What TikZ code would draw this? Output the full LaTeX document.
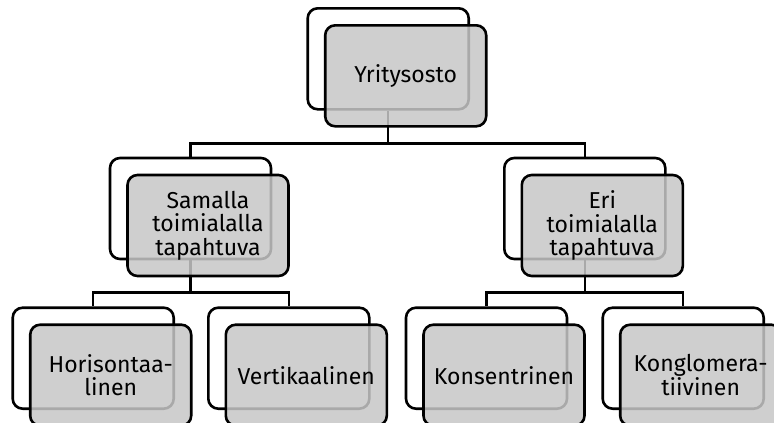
\documentclass[tikz,border=0pt]{standalone}
\usepackage{fontspec}
\setmainfont{Fira Sans}
\begin{document}
\begin{tikzpicture}[x=1pt,y=-1pt,
  back/.style={draw=black, line width=2.6pt, rounded corners=10pt, fill=white,
    minimum width=161pt, minimum height=101pt, inner sep=0pt},
  front/.style={back, fill=black!22, fill opacity=0.85, text opacity=1, align=center,
    font=\fontsize{23}{23.5}\selectfont},
  conn/.style={draw=black, line width=2.4pt}]
\clip (0,0) rectangle (774,423);
\useasboundingbox (0,0) rectangle (774,423);
% back boxes
\node[back] (b0) at (388.2,58.8) {};
\node[back] (b1) at (190.5,208.5) {};
\node[back] (b2) at (584.8,208.5) {};
\node[back] (b3) at (93.2,358.2) {};
\node[back] (b4) at (288.8,358.2) {};
\node[back] (b5) at (486.5,358.2) {};
\node[back] (b6) at (683.2,358.2) {};
% junctions
\coordinate (j0) at (388.2,143.3);
\coordinate (j1) at (190.5,292.5);
\coordinate (j2) at (584.8,292.5);
% connectors
\draw[conn] (b0.south) -- (j0) -| (b1.north);
\draw[conn] (j0) -| (b2.north);
\draw[conn] (b1.south) -- (j1) -| (b3.north);
\draw[conn] (j1) -| (b4.north);
\draw[conn] (b2.south) -- (j2) -| (b5.north);
\draw[conn] (j2) -| (b6.north);
% front boxes
\node[front] (f0) at (405.7,75.8) {Yritysosto};
\node[front] (f1) at (208,225.5) {Samalla\\toimialalla\\tapahtuva};
\node[front] (f2) at (602.3,225.5) {Eri\\toimialalla\\tapahtuva};
\node[front] (f3) at (110.7,375.2) {Horisontaa-\\linen};
\node[front] (f4) at (306.3,375.2) {Vertikaalinen};
\node[front] (f5) at (504,375.2) {Konsentrinen};
\node[front] (f6) at (700.7,375.2) {Konglomera-\\tiivinen};
\end{tikzpicture}
\end{document}
